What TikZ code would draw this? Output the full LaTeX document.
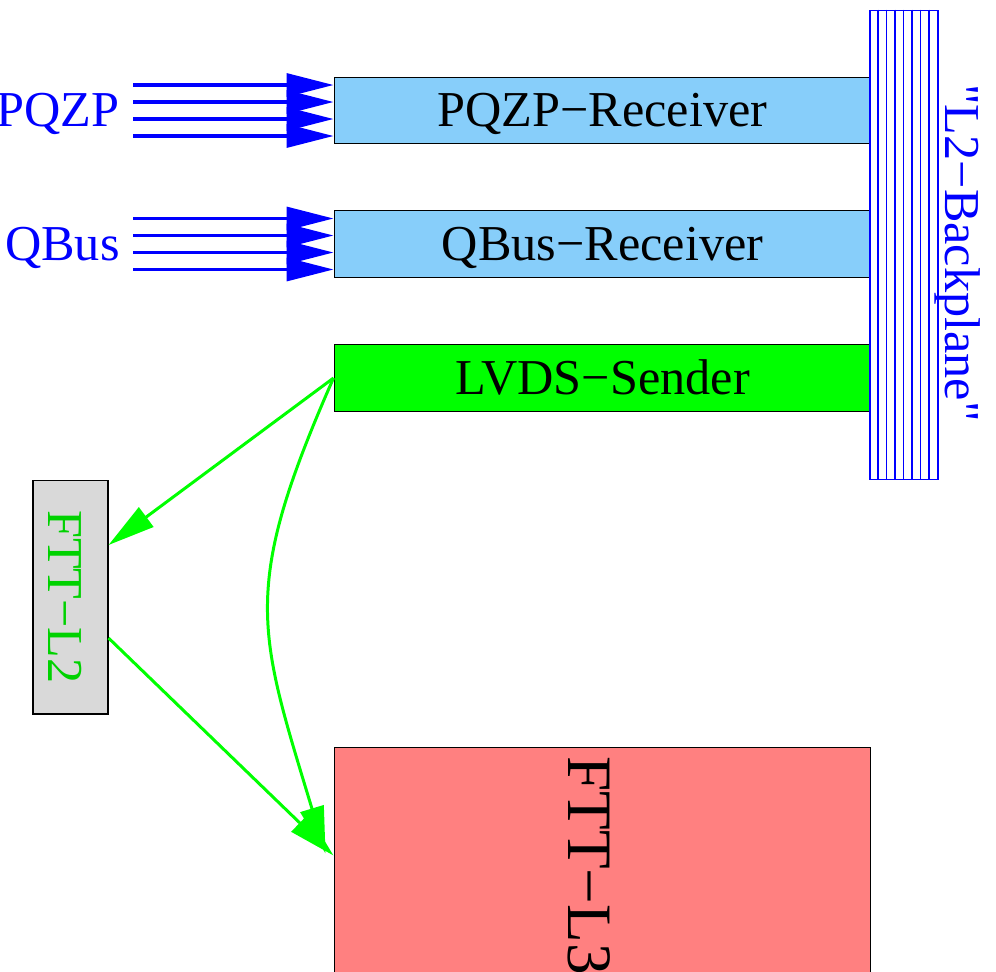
\documentclass[tikz,border=0pt]{standalone}
\usepackage{fontspec}
\setmainfont{Liberation Serif}
\newfontfamily\rawserif[Ligatures=TeXOff]{Liberation Serif}
\usepackage{tikz}
\usetikzlibrary{arrows.meta}
\definecolor{rxblue}{RGB}{135,206,250}
\definecolor{sendgreen}{RGB}{0,255,0}
\definecolor{ltwogray}{RGB}{217,217,217}
\definecolor{lthreered}{RGB}{255,128,128}
\definecolor{ltwotext}{RGB}{0,210,0}

\begin{document}
\begin{tikzpicture}[x=0.02cm,y=-0.02cm,
  txt/.style={font=\rawserif\fontsize{28.6}{34}\selectfont,inner sep=0pt},
  card/.style={draw=black,line width=0.6pt,txt,minimum width=10.74cm,minimum height=1.33cm,text height=0.7cm,text depth=0.06cm},
  bus/.style={blue,line width=1.9pt,-{Triangle[length=9.4mm,width=4.6mm]}},
  link/.style={sendgreen,line width=1.7pt,-{Triangle[length=9.4mm,width=4.8mm]}}]
  \useasboundingbox (0,0) rectangle (996,971);
  \clip (0,0) rectangle (996,971);
  \node[card,fill=rxblue] (pqzprx) at (602.5,110.5) {PQZP−Receiver};
  \node[card,fill=rxblue] (qbusrx) at (602.5,244) {QBus−Receiver};
  \node[card,fill=sendgreen] (lvds) at (602.5,378) {LVDS−Sender};
  \node[draw=blue,line width=0.6pt,inner sep=0pt,minimum width=1.36cm,minimum height=9.4cm] (bp) at (904,245) {};
  \foreach \k in {1,...,7}
    \draw[blue,line width=0.6pt] ([xshift=\k*0.17cm]bp.north west) -- ([xshift=\k*0.17cm]bp.south west);
  \node[txt,blue,rotate=-90,anchor=base] (bplbl) at (945,253) {"L2−Backplane"};
  \node[txt,blue,anchor=base east] (pqzp) at (120,126.5) {PQZP};
  \node[txt,blue,anchor=base east] (qbus) at (120,260) {QBus};
  \coordinate (pqzpin) at (133,110.5);
  \coordinate (qbusin) at (133,244);
  \foreach \d in {0.51,0.17,-0.17,-0.51} {
    \draw[bus] ([yshift=\d cm]pqzpin) -- ([yshift=\d cm]pqzprx.west);
    \draw[bus] ([yshift=\d cm]qbusin) -- ([yshift=\d cm]qbusrx.west);
  }
  \node[draw=black,line width=0.6pt,fill=ltwogray,txt,text=ltwotext,rotate=-90,minimum width=4.68cm,minimum height=1.5cm,text height=0.95cm,text depth=0.05cm] (ftt2) at (70.5,597) {FTT−L2};
  \node[draw=black,line width=0.6pt,fill=lthreered,font=\rawserif\fontsize{36}{42}\selectfont,inner sep=0pt,rotate=-90,anchor=west,minimum width=4.72cm,minimum height=10.74cm,text height=1.43cm,text depth=0.05cm] (ftt3) at (602.5,747) {FTT−L3};
  \draw[link] (lvds.west) -- ([yshift=1.04cm]ftt2.north);
  \draw[link] ([yshift=-0.82cm]ftt2.north) -- ([yshift=0.2cm]ftt3.south);
  \draw[link] (lvds.west) .. controls (240,590) and (258,630) .. ([xshift=-0.16cm,yshift=0.24cm]ftt3.south);
\end{tikzpicture}
\end{document}
